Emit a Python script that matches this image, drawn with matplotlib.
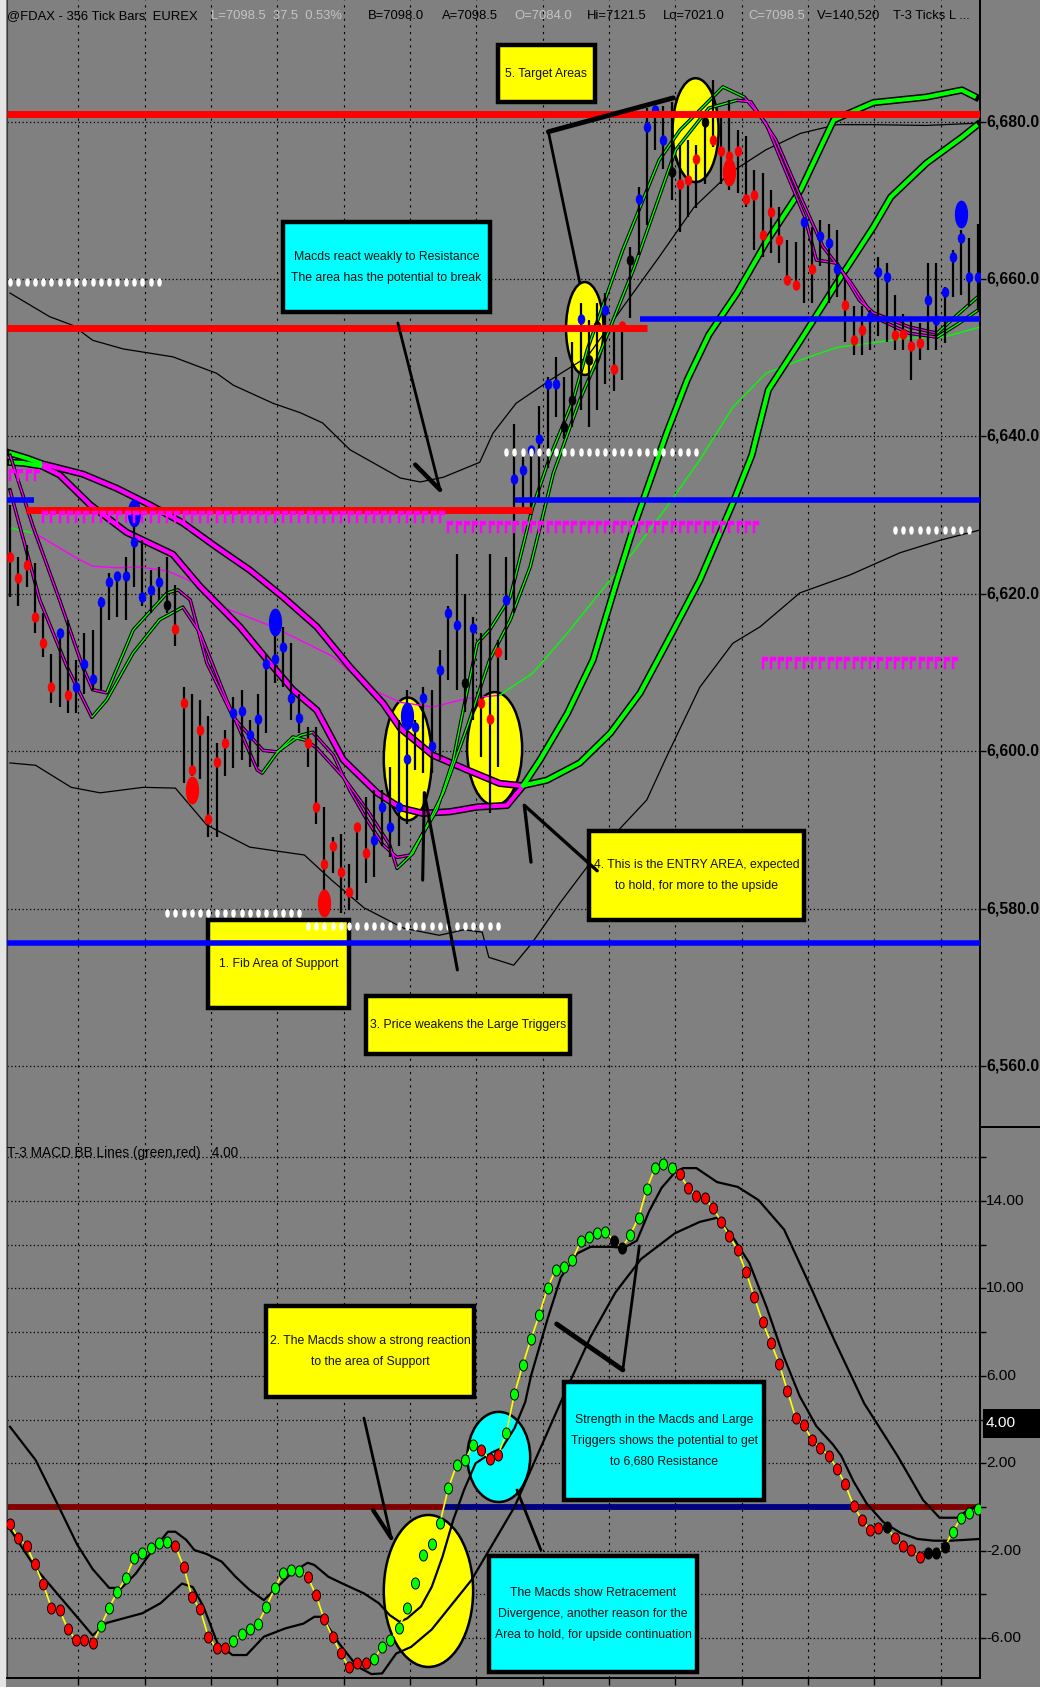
import numpy as np
import matplotlib
matplotlib.use("Agg")
import matplotlib.pyplot as plt
from matplotlib import font_manager
from matplotlib.patches import Ellipse, Rectangle
from matplotlib.path import Path
from matplotlib.lines import Line2D
from matplotlib.transforms import blended_transform_factory

W, H = 1040, 1687
BG = "#808080"

# narrow font for the chart texts, fall back to a scaled Liberation Sans
names = {f.name for f in font_manager.fontManager.ttflist}
if "Liberation Sans Narrow" in names:
    NARROW, K = "Liberation Sans Narrow", 1.0
else:
    NARROW, K = "Liberation Sans", 0.82
FONT = [NARROW, "DejaVu Sans"]

# ---------------- FDAX 356 tick bars ----------------
high = [6631.3, 6624.7, 6626.2, 6623.9, 6617.5, 6612.4, 6615.4, 6616.6, 6611.6, 6615.0,
        6615.4, 6619.6, 6622.6, 6622.6, 6624.7, 6630.2, 6626.8, 6623.0, 6623.4, 6624.7,
        6621.1, 6608.2, 6607.3, 6606.5, 6604.4, 6601.0, 6602.7, 6606.9, 6607.8, 6603.9,
        6607.3, 6612.4, 6615.8, 6615.8, 6613.7, 6607.3, 6603.1, 6603.1, 6592.9, 6589.1,
        6589.5, 6585.7, 6590.8, 6594.2, 6595.1, 6595.1, 6598.0, 6604.0, 6607.8, 6604.0,
        6608.2, 6607.8, 6612.8, 6618.4, 6625.1, 6620.0, 6617.0, 6615.0, 6625.1, 6614.1,
        6624.7, 6641.6, 6637.4, 6638.7, 6643.8, 6647.6, 6650.1, 6647.6, 6652.0, 6656.9,
        6654.8, 6656.9, 6658.2, 6653.9, 6654.4, 6664.1, 6671.7, 6681.7, 6682.0, 6682.0,
        6682.5, 6677.0, 6677.7, 6677.0, 6681.0, 6685.3, 6680.6, 6682.7, 6678.9, 6678.1,
        6673.8, 6673.4, 6671.3, 6669.2, 6665.0, 6664.7, 6667.9, 6666.6, 6667.5, 6667.0,
        6666.2, 6659.9, 6656.5, 6656.5, 6656.0, 6662.8, 6662.0, 6658.0, 6655.6, 6655.2,
        6654.4, 6662.0, 6662.0, 6659.0, 6663.7, 6666.2, 6665.2, 6667.0]
low = [6619.6, 6618.4, 6620.9, 6615.0, 6612.0, 6606.1, 6605.6, 6604.8, 6604.8, 6607.3,
       6607.8, 6607.8, 6616.6, 6617.1, 6616.6, 6620.9, 6618.4, 6617.5, 6619.2, 6617.5,
       6613.3, 6596.0, 6596.8, 6596.5, 6589.1, 6589.1, 6596.8, 6597.8, 6598.9, 6598.0,
       6598.0, 6602.3, 6608.6, 6608.2, 6604.0, 6602.3, 6598.0, 6590.8, 6581.0, 6584.5,
       6579.4, 6579.8, 6581.1, 6583.2, 6584.0, 6587.9, 6586.6, 6587.9, 6590.8, 6597.6,
       6597.2, 6597.2, 6598.9, 6609.0, 6607.8, 6605.0, 6604.0, 6599.3, 6592.1, 6598.0,
       6611.6, 6617.5, 6630.6, 6630.0, 6632.0, 6636.0, 6642.5, 6639.7, 6641.2, 6643.3,
       6641.2, 6643.3, 6646.7, 6645.7, 6647.2, 6655.0, 6663.0, 6666.9, 6676.4, 6674.0,
       6670.0, 6666.0, 6667.9, 6669.0, 6672.0, 6676.8, 6672.0, 6671.3, 6670.9, 6669.2,
       6663.7, 6662.8, 6663.3, 6662.0, 6659.2, 6658.6, 6656.9, 6656.9, 6661.6, 6657.0,
       6657.7, 6652.0, 6650.3, 6650.3, 6651.0, 6652.7, 6652.0, 6651.0, 6651.0, 6647.2,
       6649.7, 6651.0, 6651.0, 6651.8, 6657.7, 6658.0, 6656.5, 6656.0]
close = [6624.7, 6622.0, 6623.6, 6617.0, 6613.7, 6608.2, 6615.0, 6607.1, 6608.2, 6611.1,
         6609.2, 6619.0, 6621.5, 6622.2, 6622.2, 6626.6, 6619.6, 6620.5, 6621.5, 6618.6,
         6615.5, 6606.1, 6597.6, 6602.7, 6591.4, 6598.6, 6601.0, 6604.8, 6605.1, 6602.0,
         6604.1, 6611.1, 6611.7, 6613.2, 6606.7, 6604.2, 6601.0, 6592.9, 6585.7, 6587.9,
         6584.6, 6582.1, 6590.4, 6587.1, 6588.7, 6592.9, 6590.4, 6592.9, 6599.0, 6603.1,
         6606.7, 6600.6, 6610.3, 6617.5, 6616.0, 6608.6, 6615.6, 6606.1, 6604.1, 6612.6,
         6619.2, 6634.6, 6635.7, 6638.3, 6639.6, 6646.6, 6646.7, 6641.2, 6644.6, 6654.9,
         6649.7, 6654.0, 6656.0, 6648.6, 6654.0, 6662.4, 6670.1, 6679.3, 6681.5, 6677.7,
         6673.6, 6672.0, 6672.6, 6675.3, 6680.0, 6677.7, 6676.3, 6675.6, 6676.2, 6670.1,
         6670.6, 6665.6, 6668.5, 6665.0, 6659.8, 6659.2, 6667.2, 6661.3, 6665.4, 6664.6,
         6661.3, 6656.7, 6652.2, 6653.5, 6655.2, 6660.9, 6660.3, 6652.9, 6653.0, 6651.5,
         6651.9, 6657.3, 6654.8, 6658.4, 6662.8, 6665.2, 6660.3, 6660.3]
close_col = ("rrrrrrbr" "bbbbbbbbbbb" "k" "rrrrrrr" "bbbbbbbbb" "rrrrrrrr" "bbbbbbbbbbb"
             "kb" "rrr" "bbbbbbb" "kkbkkb" "rrk" "bbbbk" "rrrk" "rrrrrrrrrrr" "br" "bbb"
             "rrr" "bbb" "rrrr" "bbbbbbb")

# paintbar signals (large dots)
big_bar = [15, 22, 32, 38, 48, 87, 115]
big_price = [6630.2, 6595.1, 6616.4, 6580.7, 6604.4, 6673.6, 6668.3]
big_col = "brbrbrb"

# support / resistance levels
level_price = [6681.0, 6653.8, 6630.6, 6631.9, 6631.9, 6654.9, 6575.6]
level_from = [-0.4, -0.4, 1.9, -0.4, 61.1, 76.2, -0.4]
level_to = [117.3, 77.0, 63.1, 2.9, 117.3, 117.3, 117.3]
level_col = "rrrbbbb"

# fib marker rows (white) and trigger flag rows (magenta)
fib_price = [6659.6, 6638.0, 6628.1, 6579.4, 6577.8]
fib_from = [0, 60, 107, 19, 36]
fib_to = [18, 83, 116, 35, 59]
flag_price = [6635.1, 6629.8, 6628.5, 6611.2]
flag_from = [0, 4, 53, 91]
flag_to = [3, 52, 90, 114]

# bollinger bands on price
upper_bb_x = [0, 4.8, 7.6, 10.0, 13.7, 19.7, 25.0, 27.0, 31.8, 35.1, 37.8, 41.1, 47.2, 49.6, 52.4,
              56.8, 58.4, 61.2, 65.4, 69.8, 74.1, 78.5, 82.7, 87.1, 91.4, 95.6, 100.0, 104.4, 110.8, 117.3]
upper_bb = [6658.2, 6655.2, 6654.1, 6652.2, 6651.1, 6650.1, 6648.0, 6646.5, 6644.2, 6643.0, 6641.7,
            6638.3, 6634.7, 6634.2, 6634.8, 6636.7, 6640.4, 6644.2, 6647.2, 6650.1, 6656.4, 6662.8,
            6669.1, 6673.5, 6676.4, 6678.5, 6679.6, 6679.6, 6679.5, 6679.8]
lower_bb_x = [0, 3.1, 7.4, 10.9, 16.1, 20.0, 23.8, 29.0, 35.6, 38.9, 42.8, 47.6, 51.9, 54.9, 57.1,
              57.9, 60.9, 63.1, 66.5, 71.3, 77.0, 79.4, 83.4, 87.4, 90.7, 95.5, 101.6, 107.6, 112.5, 117.3]
lower_bb = [6598.5, 6598.2, 6595.4, 6594.7, 6595.4, 6595.3, 6590.6, 6587.8, 6586.8, 6583.6, 6580.1,
            6577.5, 6576.6, 6577.3, 6577.0, 6573.8, 6572.8, 6575.6, 6580.7, 6587.4, 6593.8, 6599.3,
            6608.1, 6613.7, 6615.8, 6620.1, 6622.4, 6625.2, 6626.8, 6628.1]

# moving average (thin line)
avg_x = [0, 2.8, 3.3, 8.1, 10.0, 12.9, 15.7, 19.0, 22.1, 24.5, 31.8, 39.1, 43.2, 47.2, 51.1, 55.3,
         59.2, 63.2, 67.4, 71.3, 75.3, 79.4, 83.4, 87.4, 91.4, 95.6, 100.0, 104.4, 108.7, 112.9, 117.3]
avg = [6628.4, 6627.7, 6627.5, 6624.5, 6623.5, 6623.3, 6623.4, 6622.9, 6621.5, 6618.8, 6615.8,
       6612.0, 6608.1, 6606.2, 6605.6, 6606.7, 6607.1, 6609.9, 6615.0, 6620.1, 6625.2, 6631.0,
       6637.0, 6643.7, 6648.0, 6649.7, 6651.3, 6651.9, 6652.5, 6652.6, 6653.9]
avg_col = "gm" + "m" * 14 + "g" * 15

# large triggers
slow_x = [-0.1, 2.1, 3.9, 8.8, 12.9, 16.9, 20.9, 25.0, 29.0, 33.0, 37.1, 41.1, 45.1, 47.2, 51.1, 55.3,
          59.2, 61.9, 64.9, 68.9, 72.6, 76.2, 79.4, 83.4, 87.4, 89.7, 91.7, 95.6, 100.0, 104.4, 106.5,
          110.8, 115.1, 117.0]
slow = [6637.9, 6637.2, 6636.5, 6635.2, 6633.4, 6631.3, 6629.0, 6625.9, 6623.0, 6619.6, 6615.8,
        6610.7, 6606.1, 6602.9, 6599.5, 6597.6, 6595.9, 6595.6, 6596.3, 6598.5, 6602.3, 6607.4,
        6613.7, 6621.7, 6631.5, 6637.6, 6645.9, 6652.2, 6659.5, 6666.6, 6670.4, 6674.7, 6678.0, 6679.6]
slow_col = "gg" + "m" * 15 + "g" * 17
fast_x = [-0.1, 1.6, 3.9, 6.0, 9.7, 14.1, 19.7, 23.0, 27.8, 31.1, 34.2, 37.1, 40.3, 44.4, 47.2, 49.9,
          53.2, 56.5, 60.1, 61.9, 64.1, 67.4, 70.5, 73.4, 75.3, 77.0, 79.4, 81.9, 84.5, 87.9, 91.4,
          95.6, 99.6, 104.4, 110.8, 115.1, 116.8]
fast = [6636.7, 6636.6, 6636.2, 6635.1, 6631.3, 6627.8, 6625.0, 6620.9, 6615.8, 6611.6, 6607.8,
        6605.2, 6598.9, 6594.7, 6592.8, 6592.1, 6592.3, 6592.9, 6593.1, 6595.4, 6598.9, 6604.8,
        6611.6, 6621.7, 6628.1, 6633.2, 6640.4, 6647.2, 6652.9, 6658.2, 6664.6, 6671.3, 6680.2,
        6682.4, 6683.1, 6684.0, 6683.1]
fast_col = "gg" + "m" * 17 + "g" * 18

# small triggers
sa_x = [0.0, 2.8, 6.0, 8.8, 10.0, 11.7, 14.9, 19.0, 20.3, 21.8, 23.8, 27.0, 30.6, 32.3, 35.1, 36.6,
        39.1, 41.1, 43.2, 45.1, 46.8, 48.4, 51.6, 53.6, 54.8, 56.5, 58.0, 60.5, 63.2, 65.3, 68.1,
        69.8, 74.1, 78.5, 81.0, 86.2, 88.8, 91.4, 93.6, 96.1, 97.5, 100.0, 102.7, 104.4, 108.7,
        112.1, 114.3, 117.0]
sa = [6637.6, 6628.5, 6619.2, 6610.7, 6607.8, 6607.4, 6615.4, 6620.1, 6620.5, 6619.2, 6611.2,
      6604.3, 6600.1, 6599.9, 6602.0, 6602.4, 6599.5, 6595.0, 6591.2, 6588.1, 6586.5, 6586.8,
      6592.5, 6598.9, 6605.2, 6613.7, 6615.4, 6619.6, 6631.0, 6637.4, 6644.6, 6651.0, 6663.7,
      6675.1, 6678.9, 6684.4, 6683.1, 6679.8, 6674.2, 6667.9, 6662.4, 6662.0, 6657.3, 6655.7,
      6653.9, 6653.1, 6655.2, 6657.7]
sa_col = "mmmmm" "ggg" "mmmmm" "gg" "mmmmmm" + "g" * 15 + "m" * 9 + "ggg"
sb_x = [0, 3.6, 6.9, 9.9, 11.7, 14.9, 18.1, 20.9, 23.0, 26.2, 29.9, 30.5, 32.3, 34.2, 35.7, 37.1,
        40.3, 43.2, 45.9, 46.8, 48.7, 52.4, 55.3, 58.0, 60.5, 62.9, 65.7, 68.9, 71.5, 75.5, 80.5,
        84.5, 87.9, 89.6, 92.6, 95.6, 98.3, 101.7, 104.4, 108.7, 112.1, 114.8, 117.0]
sb = [6633.2, 6619.2, 6610.7, 6604.3, 6606.5, 6612.5, 6616.7, 6618.3, 6615.0, 6606.5, 6597.6,
      6597.2, 6599.8, 6601.8, 6601.4, 6600.4, 6596.7, 6592.5, 6588.1, 6585.1, 6587.0, 6594.7,
      6603.1, 6611.6, 6616.7, 6623.4, 6635.3, 6644.6, 6651.0, 6661.5, 6676.4, 6681.7, 6682.7,
      6682.5, 6677.7, 6670.4, 6664.1, 6659.5, 6655.2, 6653.1, 6652.6, 6654.4, 6656.0]
sb_col = "mmm" "gggg" "mmmm" "ggg" "mmmmm" + "g" * 13 + "m" * 8 + "ggg"

# ---------------- T-3 MACD ----------------
macd = [-0.78, -1.43, -1.77, -2.62, -3.52, -4.6, -4.71, -5.6, -6.08, -6.08, -6.24,
        -5.44, -4.6, -3.87, -3.26, -2.32, -2.12, -1.86, -1.63, -1.59,
        -1.78, -2.73, -4.1, -4.68, -5.96, -6.46, -6.46,
        -6.13, -5.82, -5.6, -5.35, -4.56, -3.72, -3.0, -2.88, -2.91,
        -3.19, -4.03, -5.14, -5.93, -6.69, -7.33, -7.12, -7.15,
        -6.97, -6.39, -6.08, -5.55, -4.63, -3.49, -2.2, -1.69, -0.72, 0.86, 1.92, 2.15, 2.84,
        2.61, 2.18, 2.38,
        3.37, 5.17, 6.5, 7.69, 8.79, 10.02, 10.86, 10.96, 11.28, 12.15, 12.35, 12.52, 12.6,
        12.18, 11.85,
        12.44, 13.23, 14.55, 15.52, 15.7, 15.52,
        15.23, 14.6, 14.24, 14.13, 13.68, 13.04, 12.38, 11.75, 10.74, 9.59, 8.46, 7.52, 6.56,
        5.32, 4.08, 3.75, 3.06, 2.7, 2.35, 1.76, 1.03, 0.06, -0.58, -1.07, -0.95,
        -0.9,
        -1.42, -1.8, -1.97, -2.3,
        -2.09, -2.09, -1.85,
        -1.12, -0.49, -0.27, -0.1]
macd_col = ("rrrrrrrrrrr" "ggggggggg" "rrrrrrr" "ggggggggg" "rrrrrrrr" "ggggggggggggg" "rrr"
            "ggggggggggggg" "kk" "gggggg" "rrrrrrrrrr" "rrrrrrrrrr" "rrrrr" "k" "rrrr" "kkk" "gggg")

ub_x = [0, 3.1, 5.7, 8.1, 10, 12, 13.5, 15.2, 17, 19.1, 20, 21.3, 22.3, 23.8, 25.6, 27.3, 29, 30.7,
        32.5, 34.2, 36, 36.8, 38.5, 40.2, 42.8, 44.6, 45.9, 47.1, 48, 49.7, 51, 52.3, 53.6, 54.9,
        56.3, 58.3, 59.5, 61, 62.3, 63, 65, 66.6, 68.6, 70.2, 72.7, 74.2, 75.8, 77.3, 78.8, 80.4,
        81.4, 83, 85.5, 88, 90.5, 93.6, 96.7, 99.7, 103.3, 107.3, 110.4, 112.4, 114.5, 116, 117.3]
ub = [3.67, 2.15, 0.17, -1.7, -2.84, -3.7, -3.7, -3.05, -2.1, -1.13, -1.13, -1.5, -1.97, -2.15,
      -2.5, -3.2, -3.8, -4.26, -3.6, -2.96, -2.55, -2.65, -3.19, -3.5, -3.95, -4.4, -4.94, -5.25,
      -5.1, -4.55, -3.65, -2.27, -0.59, 0.78, 2.0, 2.5, 2.7, 3.6, 4.8, 6.0, 8.6, 10.5, 11.6, 11.9,
      11.9, 11.85, 12.18, 13.54, 14.6, 15.3, 15.5, 15.5, 14.86, 14.64, 14.04, 12.69, 10.16, 7.61,
      4.73, 2.35, 0.32, -0.49, -0.49, -0.1, 0.1]
lb_x = [0, 3.1, 10, 11.7, 16, 18.2, 20.8, 22.1, 23.4, 25.1, 26.9, 28.6, 30.7, 33.3, 35.5, 36.8,
        37.7, 39.8, 42, 43.7, 45, 46.7, 48.5, 51, 55.8, 61, 67.1, 70.2, 73.2, 76.3, 80.4, 83.4,
        85.5, 87.4, 89.4, 91.5, 93.5, 95.5, 97.5, 99.5, 100.5, 102, 103.6, 105.6, 107.7, 109.7,
        111.7, 113.8, 117.3]
lb = [-1.0, -2.8, -5.87, -5.3, -4.86, -4.4, -3.5, -3.66, -4.56, -6.24, -6.77, -6.77, -5.93, -5.55,
      -5.33, -5.02, -5.02, -6.24, -7.3, -7.64, -7.61, -6.7, -6.4, -5.6, -3.34, 0.0, 5.23, 7.78,
      9.81, 11.34, 12.52, 13.04, 13.23, 12.35, 11.16, 9.13, 6.93, 5.06, 3.7, 2.86, 2.35, 1.17,
      0.15, -0.69, -1.19, -1.46, -1.54, -1.54, -1.46]

price_ticks = [6560, 6580, 6600, 6620, 6640, 6660, 6680]
macd_ticks = [-6, -2, 2, 6, 10, 14]
last_macd_label = 4.00

# ---------------- annotations ----------------
top_notes = [
    (59.0, 70.7, 6682.5, 6689.7, "#ffff00", "5. Target Areas"),
    (33.0, 58.0, 6655.8, 6667.2, "#00ffff",
     "Macds react weakly to Resistance\nThe area has the potential to break"),
    (23.9, 41.0, 6567.4, 6578.5, "#ffff00", "1. Fib Area of Support"),
    (43.0, 67.7, 6561.5, 6568.9, "#ffff00", "3. Price weakens the Large Triggers"),
    (70.0, 96.0, 6578.5, 6589.8, "#ffff00",
     "4. This is the ENTRY AREA, expected\nto hold, for more to the upside"),
]
low_notes = [
    (31.0, 56.1, 5.03, 9.19, "#ffff00",
     "2. The Macds show a strong reaction\nto the area of Support"),
    (67.0, 91.2, 0.32, 5.72, "#00ffff",
     "Strength in the Macds and Large\nTriggers shows the potential to get\nto 6,680 Resistance"),
    (57.9, 83.1, -7.55, -2.24, "#00ffff",
     "The Macds show Retracement\nDivergence, another reason for the\nArea to hold, for upside continuation"),
]
top_arrows = [
    ([46.9, 52.0], [6654.4, 6633.2], 2.0),
    ([49.0, 52.0], [6636.4, 6633.2], 3.2),
    ([68.9, 65.1], [6659.5, 6678.7], 2.0),
    ([65.1, 80.2], [6678.7, 6683.0], 3.5),
    ([54.1, 50.1], [6572.2, 6594.7], 2.2),
    ([50.1, 49.9], [6594.7, 6583.6], 2.2),
    ([71.0, 62.2], [6584.8, 6593.1], 2.4),
    ([62.2, 63.0], [6593.1, 6585.9], 2.4),
]
low_arrows = [
    ([42.8, 46.1], [4.07, -1.42], 2.0),
    ([43.9, 46.1], [-0.14, -1.42], 3.0),
    ([66.1, 74.1], [8.37, 6.27], 3.5),
    ([74.1, 76.1], [6.27, 11.94], 2.0),
    ([64.2, 61.3], [-1.97, 0.78], 2.0),
]
top_rings = [(69.5, 6653.7, 4.53, 11.8, "#ffff00"), (82.9, 6678.9, 5.56, 13.2, "#ffff00"),
             (48.1, 6599.0, 5.8, 15.6, "#ffff00"), (58.6, 6600.3, 6.65, 14.4, "#ffff00")]
low_rings = [(50.6, -3.84, 10.8, 6.95, "#ffff00"), (59.1, 2.29, 7.6, 4.12, "#00ffff")]

# ---------------- helpers ----------------
t = np.linspace(0, 2 * np.pi, 40)


def oval(ratio):
    return Path(np.column_stack([ratio * np.cos(t), np.sin(t)]), closed=True)


FLAG = Path([(-0.15, -1), (0.15, -1), (0.15, 0.35), (0.9, 0.35), (0.9, 1), (-0.15, 1), (-0.15, -1)],
            closed=True)
TRIG = {"m": "#ff00ff", "g": "#00ff00"}
PRICE_COL = {"b": "#0000ff", "r": "#ff0000", "k": "#000000"}
MACD_COL = {"g": "#00ff00", "r": "#ff0000", "k": "#000000"}


def trigger(ax, xs, ys, codes, lw, edge, z):
    ax.plot(xs, ys, color="black", lw=lw + edge, solid_joinstyle="round", zorder=z)
    start = 0
    for i in range(1, len(codes) + 1):
        if i == len(codes) or codes[i] != codes[start]:
            end = min(i, len(xs) - 1)
            ax.plot(xs[start:end + 1], ys[start:end + 1], color=TRIG[codes[start]], lw=lw,
                    solid_capstyle="butt", solid_joinstyle="round", zorder=z + 0.05)
            start = i


def note(ax, x0, x1, y0, y1, face, text):
    ax.add_patch(Rectangle((x0, y0), x1 - x0, y1 - y0, facecolor=face, edgecolor="black",
                           lw=3.2, zorder=4))
    ax.text((x0 + x1) / 2, (y0 + y1) / 2, text, ha="center", va="center", fontsize=10.8 * K,
            family=FONT, color="#111111", linespacing=2.0, zorder=4.1)


XLIM = (-0.36, 117.29)
grid_x = [8.26 + 8.02 * k for k in range(14)]
bars = np.arange(len(close))

fig = plt.figure(figsize=(W / 100, H / 100), dpi=100, facecolor=BG)
fig.add_artist(Rectangle((0, 0), 6 / W, 1, transform=fig.transFigure, facecolor="#e4e4e4",
                         edgecolor="none"))

ax1 = fig.add_axes([7 / W, 1 - 1127 / H, 973 / W, 1127 / H])
ax2 = fig.add_axes([7 / W, 1 - 1678 / H, 973 / W, 551 / H])
for ax in (ax1, ax2):
    ax.set_facecolor(BG)
    ax.set_xlim(*XLIM)
    for s in ("top", "bottom"):
        ax.spines[s].set_visible(False)
    ax.spines["left"].set_color("#3a3a3a")
    ax.spines["right"].set_color("black")
    ax.spines["right"].set_linewidth(1.4)
    for gx in grid_x:
        ax.axvline(gx, color="black", lw=0.8, ls=(0, (2, 4)), zorder=1)
ax1.set_ylim(6552.24, 6695.44)
ax2.set_ylim(-7.82, 17.38)
ax2.spines["bottom"].set_visible(True)
ax2.spines["bottom"].set_linewidth(1.4)

# ---------------- price panel ----------------
for gy in price_ticks:
    ax1.axhline(gy, color="black", lw=0.9, ls=(0, (1, 2)), zorder=1)

for cx, cy, w, h, fc in top_rings:
    ax1.add_patch(Ellipse((cx, cy), w, h, facecolor=fc, edgecolor="black", lw=1.8, zorder=1.5))

ax1.plot(upper_bb_x, upper_bb, color="black", lw=0.9, zorder=2)
ax1.plot(lower_bb_x, lower_bb, color="black", lw=0.9, zorder=2)

start = 0
for i in range(1, len(avg_col) + 1):
    if i == len(avg_col) or avg_col[i] != avg_col[start]:
        end = min(i, len(avg_x) - 1)
        ax1.plot(avg_x[start:end + 1], avg[start:end + 1], color=TRIG[avg_col[start]], lw=1.0,
                 zorder=2.2)
        start = i

trigger(ax1, slow_x, slow, slow_col, 3.0, 2.2, 2.6)
trigger(ax1, fast_x, fast, fast_col, 3.0, 2.2, 2.6)
trigger(ax1, sa_x, sa, sa_col, 1.0, 1.5, 2.8)
trigger(ax1, sb_x, sb, sb_col, 1.0, 1.5, 2.8)

ax1.vlines(bars, low, high, color="black", lw=1.6, zorder=3)
close_arr = np.array(close)
for code, col in PRICE_COL.items():
    idx = [i for i, c in enumerate(close_col) if c == code]
    ax1.plot(bars[idx], close_arr[idx], ls="none", marker=oval(0.72), ms=7, mfc=col, mec=col,
             mew=0.4, zorder=3.2)
for b, p, c in zip(big_bar, big_price, big_col):
    ax1.plot([b], [p], ls="none", marker=oval(0.45), ms=19, mfc=PRICE_COL[c], mec=PRICE_COL[c],
             zorder=3.3)

for note_args in top_notes:
    note(ax1, *note_args)

for p, a, b, c in zip(level_price, level_from, level_to, level_col):
    ax1.hlines(p, a, b, color=PRICE_COL[c], lw=5.0 if c == "r" else 4.0, zorder=4.2)

for p, a, b in zip(fib_price, fib_from, fib_to):
    xs = np.arange(a, b + 1)
    ax1.plot(xs, [p] * len(xs), ls="none", marker=oval(0.45), ms=5, mfc="white", mec="white",
             zorder=4.5)
for p, a, b in zip(flag_price, flag_from, flag_to):
    xs = np.arange(a, b + 1)
    ax1.plot(xs, [p] * len(xs), ls="none", marker=FLAG, ms=8, mfc="#ff00ff", mec="#ff00ff",
             mew=0.3, zorder=4.5)

for xs, ys, lw in top_arrows:
    ax1.plot(xs, ys, color="black", lw=lw, solid_capstyle="round", zorder=5)

# right price scale
ax1.yaxis.tick_right()
ax1.set_yticks(price_ticks)
ax1.tick_params(axis="y", direction="out", length=4, width=1, labelright=False)
ax1.tick_params(axis="x", length=0, labelbottom=False)
tr1 = blended_transform_factory(ax1.transAxes, ax1.transData)
for v in price_ticks:
    ax1.text(1 + 6 / 973, v, f"{v:,.1f}", transform=tr1, ha="left", va="center",
             fontsize=14 * K, fontweight="bold", family=FONT, clip_on=False)

# ---------------- MACD panel ----------------
for gy in range(-6, 17, 2):
    if gy != 0:
        ax2.axhline(gy, color="black", lw=0.9, ls=(0, (1, 2)), zorder=1)

for cx, cy, w, h, fc in low_rings:
    ax2.add_patch(Ellipse((cx, cy), w, h, facecolor=fc, edgecolor="black", lw=1.8, zorder=1.5))

# zero line coloured by the sign of the MACD
signs = np.sign(macd)
edges = [XLIM[0]] + [i + 0.5 for i in range(len(macd) - 1) if signs[i] != signs[i + 1]] + [XLIM[1]]
for a, b in zip(edges[:-1], edges[1:]):
    mid = int(np.clip(round((a + b) / 2), 0, len(macd) - 1))
    ax2.hlines(0, a, b, color="#000080" if macd[mid] > 0 else "#800000", lw=4.2, zorder=1.8)

ax2.plot(ub_x, ub, color="black", lw=1.6, zorder=2)
ax2.plot(lb_x, lb, color="black", lw=1.6, zorder=2)
ax2.plot(bars, macd, color="#ffff00", lw=1.2, zorder=2.5)
macd_arr = np.array(macd)
for code, col in MACD_COL.items():
    idx = [i for i, c in enumerate(macd_col) if c == code]
    ax2.plot(bars[idx], macd_arr[idx], ls="none", marker=oval(0.72), ms=8, mfc=col, mec="black",
             mew=0.7, zorder=3)

for note_args in low_notes:
    note(ax2, *note_args)
for xs, ys, lw in low_arrows:
    ax2.plot(xs, ys, color="black", lw=lw, solid_capstyle="round", zorder=5)

ax2.yaxis.tick_right()
ax2.set_yticks(range(-6, 17, 2))
ax2.tick_params(axis="y", direction="out", length=4, width=1, labelright=False)
ax2.set_xticks(grid_x)
ax2.tick_params(axis="x", direction="out", length=5, width=1, labelbottom=False)
tr2 = blended_transform_factory(ax2.transAxes, ax2.transData)
for v in macd_ticks:
    ax2.text(1 + 6 / 973, v, f"{v:.2f}", transform=tr2, ha="left", va="center",
             fontsize=13.5 * K, family=FONT, clip_on=False)

# last value box on the MACD scale
ax2.add_patch(Rectangle((1 + 3 / 973, 3.16), 60 / 973, 1.32, transform=tr2, facecolor="black",
                        edgecolor="none", clip_on=False, zorder=6))
ax2.text(1 + 6 / 973, 3.82, f"{last_macd_label:.2f}", transform=tr2, ha="left", va="center",
         color="white", fontsize=13.5 * K, family=FONT, clip_on=False, zorder=7)

fig.add_artist(Line2D([980 / W, 1], [1 - 1127 / H] * 2, transform=fig.transFigure, color="black",
                      lw=1.4))

# ---------------- titles ----------------
header = [
    (7, "@FDAX - 356 Tick Bars  EUREX", "black"),
    (211, "L=7098.5  37.5  0.53%", "#c4c4c4"),
    (368, "B=7098.0", "black"),
    (442, "A=7098.5", "black"),
    (514, "O=7084.0", "#c4c4c4"),
    (587, "Hi=7121.5", "black"),
    (663, "Lo=7021.0", "black"),
    (748, "C=7098.5", "#c4c4c4"),
    (817, "V=140,520", "black"),
    (893, "T-3 Ticks L ...", "black"),
]
for x, txt, col in header:
    fig.text(x / W, 1 - 19 / H, txt, color=col, fontsize=11.4 * K, family=FONT, va="baseline")
fig.text(7 / W, 1 - 1157 / H, f"T-3 MACD BB Lines (green,red)   {last_macd_label:.2f}",
         color="black", fontsize=12 * K, family=FONT, va="baseline")

fig.savefig("out.png", dpi=100, facecolor=BG)
